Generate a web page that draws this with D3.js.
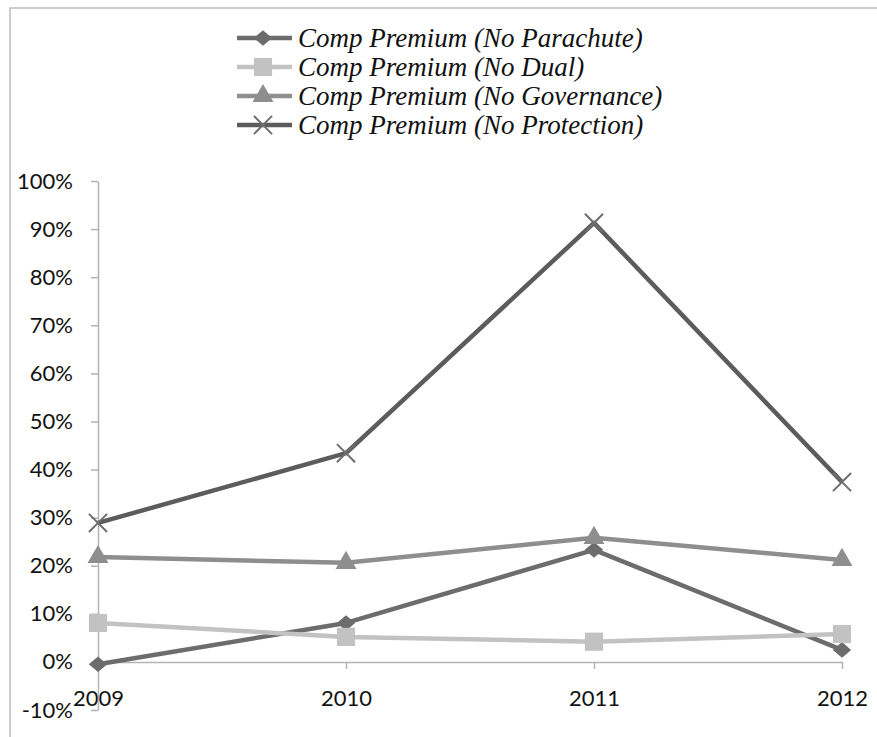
<!DOCTYPE html>
<html>
<head>
<meta charset="utf-8">
<script src="https://cdn.jsdelivr.net/npm/d3@7"></script>
<style>
  body { margin: 0; background: #fff; }
</style>
</head>
<body>
<div id="chart"></div>
<script>
// Data
const years = ["2009", "2010", "2011", "2012"]
const yTicks = [-0.1, 0, 0.1, 0.2, 0.3, 0.4, 0.5, 0.6, 0.7, 0.8, 0.9, 1.0]
const parachute = [-0.005, 0.081, 0.233, 0.025]
const dual = [0.081, 0.052, 0.042, 0.058]
const governance = [0.218, 0.206, 0.258, 0.212]
const protection = [0.289, 0.434, 0.913, 0.374]
const seriesNames = [
  "Comp Premium (No Parachute)",
  "Comp Premium (No Dual)",
  "Comp Premium (No Governance)",
  "Comp Premium (No Protection)"
]

// Settings
const SIZE = [877, 737]
const MARGIN = {top: 181, right: 35, bottom: 27, left: 98}

// marker shapes
const symbolWideDiamond = {
  draw(ctx, size) {
    const w = Math.sqrt(size) * 0.75, h = w * 0.85
    ctx.moveTo(0, -h); ctx.lineTo(w, 0); ctx.lineTo(0, h); ctx.lineTo(-w, 0); ctx.closePath()
  }
}
const symbolCrossX = {
  draw(ctx, size) {
    const r = Math.sqrt(size) / 2
    ctx.moveTo(-r, -r); ctx.lineTo(r, r)
    ctx.moveTo(-r, r); ctx.lineTo(r, -r)
  }
}

const series = [
  {name: seriesNames[0], values: parachute, color: "#6c6c6c", symbol: symbolWideDiamond, size: 150, stroked: false},
  {name: seriesNames[1], values: dual, color: "#c2c2c2", symbol: d3.symbolSquare, size: 330, stroked: false},
  {name: seriesNames[2], values: governance, color: "#8e8e8e", symbol: d3.symbolTriangle, size: 190, stroked: false},
  {name: seriesNames[3], values: protection, color: "#5c5c5c", symbol: symbolCrossX, size: 330, stroked: true}
]

const svg = d3.select("#chart").append("svg")
  .attr("width", SIZE[0])
  .attr("height", SIZE[1])

// chart frame (left + top edge)
svg.append("path")
  .attr("d", `M10,${SIZE[1]}V8H${SIZE[0]}`)
  .attr("fill", "none")
  .attr("stroke", "#bdbdbd")
  .attr("stroke-width", 1.5)

const scaleX = d3.scalePoint()
  .domain(years)
  .range([MARGIN.left, SIZE[0] - MARGIN.right])

const scaleY = d3.scaleLinear()
  .domain([-0.1, 1.0])
  .range([SIZE[1] - MARGIN.bottom, MARGIN.top])

const yAxis = g => g
  .attr("transform", `translate(${MARGIN.left},0)`)
  .call(d3.axisLeft(scaleY)
    .tickValues(yTicks)
    .tickSize(7)
    .tickSizeOuter(0)
    .tickPadding(18)
    .tickFormat(d => Math.round(d * 100) + "%"))
  .call(g => g.selectAll("path, line").attr("stroke", "#b3b3b3").attr("stroke-width", 1.5))
  .call(g => g.selectAll("text")
    .attr("font-family", "Lato, sans-serif")
    .attr("font-size", 22)
    .attr("fill", "#111"))

const xAxis = g => g
  .attr("transform", `translate(0,${scaleY(0)})`)
  .call(d3.axisBottom(scaleX)
    .tickSize(7)
    .tickSizeOuter(0)
    .tickPadding(21))
  .call(g => g.selectAll("path, line").attr("stroke", "#b3b3b3").attr("stroke-width", 1.5))
  .call(g => g.selectAll("text")
    .attr("font-family", "Lato, sans-serif")
    .attr("font-size", 22)
    .attr("fill", "#111"))

svg.append("g").call(xAxis)
svg.append("g").call(yAxis)

const line = d3.line()
  .x((d, i) => scaleX(years[i]))
  .y(d => scaleY(d))

const markerAttrs = (sel, s) => sel
  .attr("d", d3.symbol(s.symbol, s.size))
  .attr("fill", s.stroked ? "none" : s.color)
  .attr("stroke", s.stroked ? "#6e6e6e" : "none")
  .attr("stroke-width", 2)

for (const s of series) {
  const g = svg.append("g")
  g.append("path")
    .attr("d", line(s.values))
    .attr("fill", "none")
    .attr("stroke", s.color)
    .attr("stroke-width", 4.5)
    .attr("stroke-linejoin", "round")
  g.selectAll(".marker")
    .data(s.values)
    .join("path")
      .attr("class", "marker")
      .attr("transform", (d, i) => `translate(${scaleX(years[i])},${scaleY(d)})`)
      .call(markerAttrs, s)
}

// Legend
const legend = svg.append("g")
  .attr("transform", "translate(237,38)")

series.forEach((s, i) => {
  const row = legend.append("g").attr("transform", `translate(0,${i * 29})`)
  row.append("line")
    .attr("x1", 0).attr("x2", 55)
    .attr("stroke", s.color)
    .attr("stroke-width", 4.5)
  row.append("path")
    .attr("transform", "translate(26,0)")
    .call(markerAttrs, s)
  row.append("text")
    .attr("x", 61)
    .attr("y", 9)
    .attr("font-family", "'Liberation Serif', 'Times New Roman', serif")
    .attr("font-style", "italic")
    .attr("font-size", 27)
    .attr("fill", "#111")
    .text(s.name)
})
</script>
</body>
</html>
